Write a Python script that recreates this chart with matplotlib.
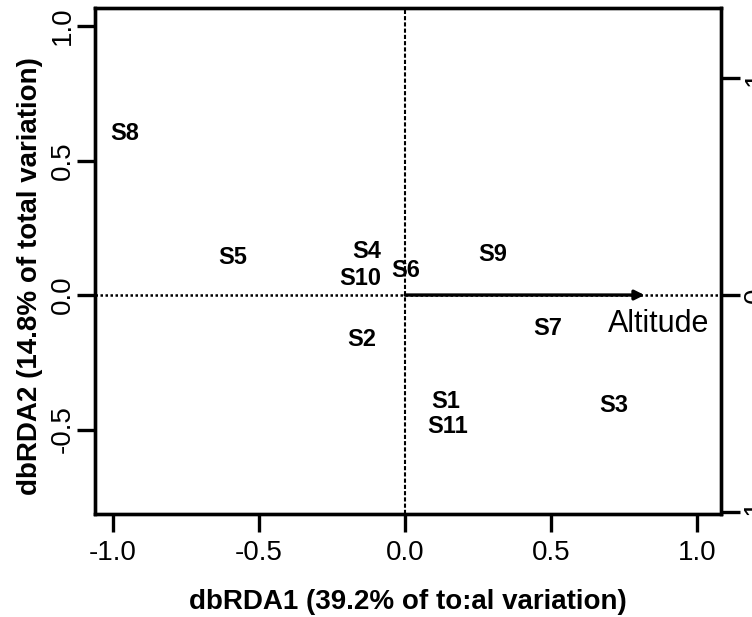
import numpy as np
import matplotlib.pyplot as plt

plt.rcParams['font.family'] = ['Liberation Sans', 'DejaVu Sans']

# site scores (dbRDA1, dbRDA2)
sites = ['S8', 'S5', 'S4', 'S10', 'S6', 'S9', 'S2', 'S7', 'S1', 'S11', 'S3']
site_x = [-0.96, -0.59, -0.13, -0.154, 0.003, 0.30, -0.147, 0.49, 0.14, 0.147, 0.716]
site_y = [0.60, 0.14, 0.16, 0.063, 0.093, 0.152, -0.164, -0.123, -0.394, -0.487, -0.409]

# environmental vector
env_name = 'Altitude'
env_x = 0.82
env_y = 0.0
env_label_x = 0.87
env_label_y = -0.108

xticks = [-1.0, -0.5, 0.0, 0.5, 1.0]
yticks = [-0.5, 0.0, 0.5, 1.0]
arrow_ticks = [-1, 0, 1]

fig = plt.figure(figsize=(7.52, 6.17), dpi=100)
ax = fig.add_axes([95 / 752, 1 - 514 / 617, (721 - 95) / 752, (514 - 8) / 617])

ax.set_xlim(-1.062, 1.082)
ax.set_ylim(-0.814, 1.067)

# reference lines
ax.axhline(0, color='black', linestyle=(0, (1, 1.0)), linewidth=1.8, zorder=1)
ax.axvline(0, color='black', linestyle=(0, (2, 1.0)), linewidth=1.5, zorder=1)

# biplot arrow
ax.annotate('', xy=(env_x, env_y), xytext=(0, 0),
            arrowprops=dict(arrowstyle='-|>', color='black', lw=2.4,
                            mutation_scale=14, shrinkA=0, shrinkB=0))
ax.text(env_label_x, env_label_y, env_name, ha='center', va='center',
        fontsize=22)

for name, x, y in zip(sites, site_x, site_y):
    ax.text(x, y, name, ha='center', va='center', fontsize=17,
            fontweight='bold')

ax.set_xticks(xticks)
ax.set_xticklabels([f'{t:.1f}' for t in xticks])
ax.set_yticks(yticks)
ax.set_yticklabels([f'{t:.1f}' for t in yticks], rotation=90, va='center')
ax.tick_params(direction='out', length=13, width=2.4, labelsize=20)
ax.tick_params(axis='x', pad=6)
ax.tick_params(axis='y', pad=1)

for s in ax.spines.values():
    s.set_linewidth(2.4)

ax.set_xlabel('dbRDA1 (39.2% of to:al variation)', fontsize=20,
              fontweight='bold')
ax.set_ylabel('dbRDA2 (14.8% of total variation)', fontsize=20,
              fontweight='bold')
ax.xaxis.set_label_coords(0.5, -0.148)
ax.yaxis.set_label_coords(-0.083, 0.47)

# arrow scale axis on the right
ax2 = ax.twinx()
ax2.set_ylim(-1.009, 1.3226)
ax2.set_yticks(arrow_ticks)
ax2.set_yticklabels([str(t) for t in arrow_ticks], rotation=90, va='center')
ax2.tick_params(direction='out', length=14, width=2.4, labelsize=20, pad=2)
for s in ax2.spines.values():
    s.set_linewidth(2.4)

fig.savefig('out.png', dpi=100)
